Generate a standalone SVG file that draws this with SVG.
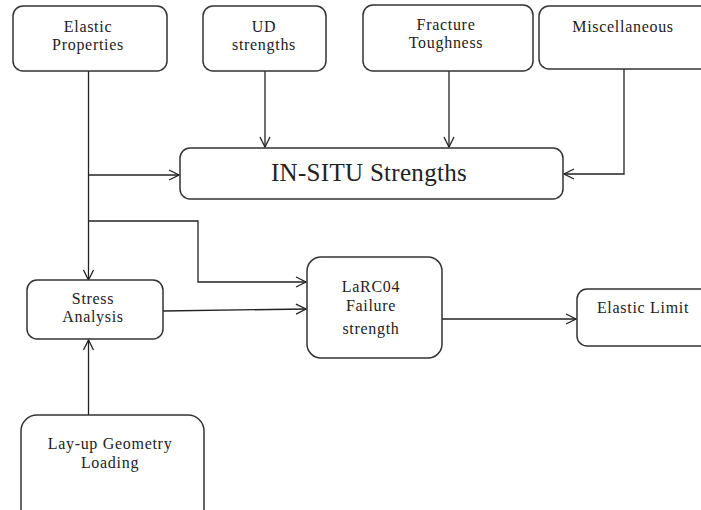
<svg xmlns="http://www.w3.org/2000/svg" width="701" height="510" viewBox="0 0 701 510">
<defs>
<marker id="arr" viewBox="0 0 12 12" refX="11" refY="6" markerWidth="12" markerHeight="12" markerUnits="userSpaceOnUse" orient="auto">
<path d="M1,1 L11,6 L1,11" fill="none" stroke="#222" stroke-width="1.3"/>
</marker>
</defs>
<style>
.box{fill:#fff;stroke:#333;stroke-width:1.5}
.t{font-family:"Liberation Serif","DejaVu Serif",serif;font-size:16px;letter-spacing:0.7px;fill:#222;text-anchor:middle}
.c{fill:none;stroke:#222;stroke-width:1.3;marker-end:url(#arr)}
.l{fill:none;stroke:#222;stroke-width:1.3}
</style>
<rect width="701" height="510" fill="#fff"/>
<g id="connectors">
<path class="l" d="M88.5,71 V221"/>
<path class="c" d="M88.5,221 V280"/>
<path class="c" d="M88.5,175 H179"/>
<path class="c" d="M88.5,221 H198 V282 H306"/>
<path class="c" d="M265,71 V147"/>
<path class="c" d="M449,71 V147"/>
<path class="c" d="M624,69 V174 H564"/>
<path class="c" d="M163,311 L306,309"/>
<path class="c" d="M442,319 H576"/>
<path class="c" d="M88.5,415 V340"/>
</g>
<g id="elastic-properties">
<rect class="box" x="13" y="6" width="154" height="65" rx="10"/>
<text class="t" x="88" y="32">Elastic</text>
<text class="t" x="88" y="50">Properties</text>
</g>
<g id="ud-strengths">
<rect class="box" x="203" y="6" width="123" height="65" rx="10"/>
<text class="t" x="264" y="32">UD</text>
<text class="t" x="264" y="50">strengths</text>
</g>
<g id="fracture-toughness">
<rect class="box" x="363" y="5" width="170" height="66" rx="10"/>
<text class="t" x="446" y="30">Fracture</text>
<text class="t" x="446" y="48">Toughness</text>
</g>
<g id="miscellaneous">
<rect class="box" x="539" y="6" width="175" height="63" rx="10"/>
<text class="t" x="623" y="32">Miscellaneous</text>
</g>
<g id="in-situ">
<rect class="box" x="180" y="148" width="383" height="51" rx="10"/>
<text class="t" x="369" y="181" style="font-size:25px;letter-spacing:0.3px">IN-SITU Strengths</text>
</g>
<g id="stress-analysis">
<rect class="box" x="27" y="280" width="136" height="59" rx="10"/>
<text class="t" x="93" y="304">Stress</text>
<text class="t" x="93" y="322">Analysis</text>
</g>
<g id="larc04">
<rect class="box" x="307" y="257" width="135" height="101" rx="14"/>
<text class="t" x="371" y="292">LaRC04</text>
<text class="t" x="371" y="311">Failure</text>
<text class="t" x="371" y="334">strength</text>
</g>
<g id="elastic-limit">
<rect class="box" x="577" y="289" width="140" height="57" rx="10"/>
<text class="t" x="643" y="313">Elastic Limit</text>
</g>
<g id="layup">
<rect class="box" x="21" y="415" width="183" height="110" rx="16"/>
<text class="t" x="110" y="449">Lay-up Geometry</text>
<text class="t" x="110" y="468">Loading</text>
</g>
</svg>
